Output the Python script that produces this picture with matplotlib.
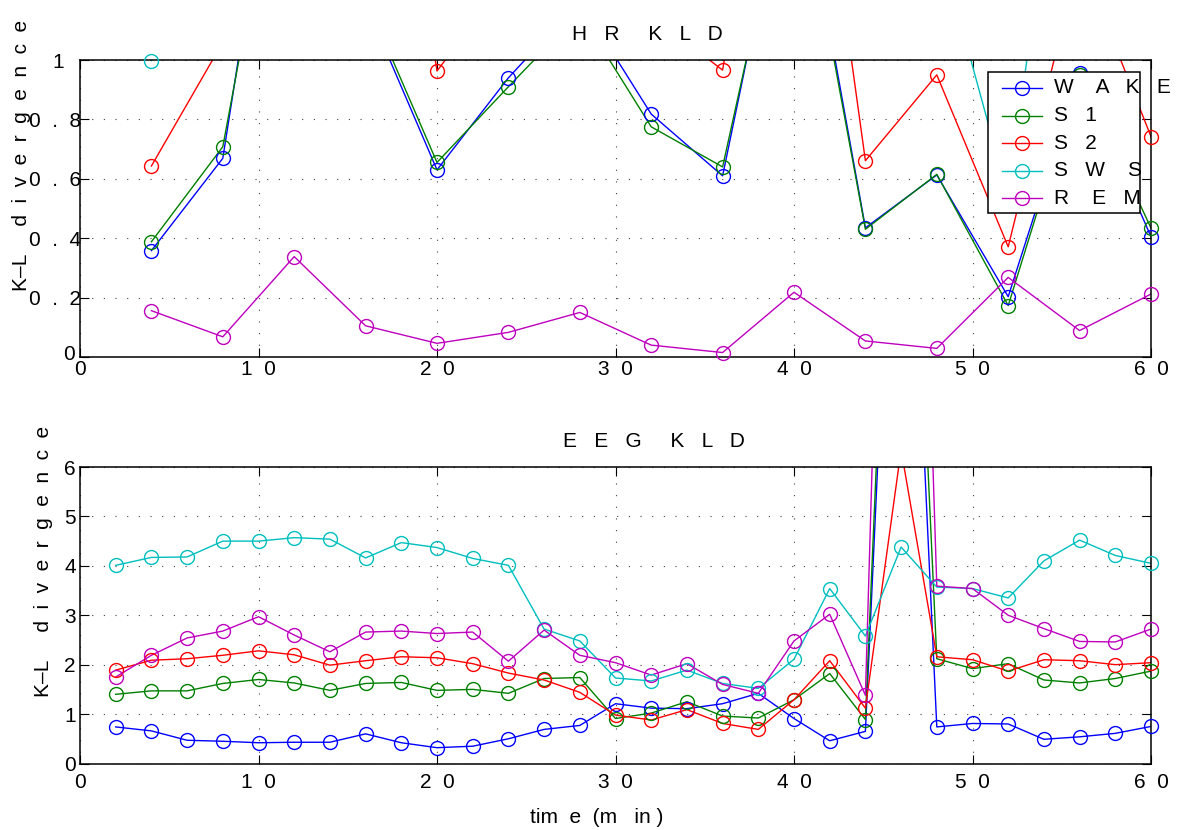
import matplotlib
matplotlib.use('Agg')
import matplotlib.pyplot as plt
from matplotlib.lines import Line2D
from matplotlib.patches import Rectangle
from matplotlib.transforms import ScaledTranslation

plt.rcParams['font.family'] = ['Liberation Sans', 'DejaVu Sans']
plt.rcParams['lines.scale_dashes'] = False

# ---------------- data ----------------
hr_time = [4, 8, 12, 16, 20, 24, 28, 32, 36, 40, 44, 48, 52, 56, 60]
hr_wake = [0.358, 0.669, 2.2, 1.19, 0.63, 0.94, 1.2, 0.818, 0.61, 1.77, 0.435, 0.613, 0.203, 0.955, 0.405]
hr_s1 = [0.388, 0.708, 2.0, 1.21, 0.655, 0.91, 1.16, 0.775, 0.64, 1.73, 0.43, 0.615, 0.173, 0.95, 0.434]
hr_s2 = [0.643, 1.06, 2.0, 2.5, 0.963, 1.28, 1.5, 1.15, 0.966, 2.4, 0.661, 0.95, 0.371, 1.35, 0.742]
hr_sws = [0.998, 1.8, 2.5, 2.8, 2.2, 2.0, 2.3, 2.0, 2.1, 2.4, 2.0, 1.42, 0.54, 2.3, 2.2]
hr_rem = [0.156, 0.068, 0.338, 0.105, 0.046, 0.083, 0.15, 0.04, 0.015, 0.218, 0.054, 0.029, 0.268, 0.089, 0.212]

eeg_time = [2, 4, 6, 8, 10, 12, 14, 16, 18, 20, 22, 24, 26, 28, 30,
            32, 34, 36, 38, 40, 42, 44, 46, 48, 50, 52, 54, 56, 58, 60]
eeg_wake = [0.74, 0.66, 0.47, 0.45, 0.42, 0.43, 0.43, 0.60, 0.42, 0.32, 0.35, 0.50, 0.69, 0.77, 1.21,
            1.12, 1.11, 1.21, 1.42, 0.91, 0.46, 0.65, 16.3, 0.74, 0.81, 0.80, 0.49, 0.54, 0.61, 0.75]
eeg_s1 = [1.40, 1.47, 1.47, 1.62, 1.70, 1.63, 1.48, 1.62, 1.64, 1.48, 1.50, 1.42, 1.72, 1.74, 0.91,
          1.02, 1.25, 0.96, 0.92, 1.29, 1.82, 0.89, 17.7, 2.12, 1.92, 2.02, 1.69, 1.63, 1.72, 1.87]
eeg_s2 = [1.89, 2.09, 2.12, 2.19, 2.28, 2.20, 1.99, 2.08, 2.16, 2.14, 2.02, 1.83, 1.69, 1.44, 0.98,
          0.88, 1.09, 0.81, 0.69, 1.29, 2.08, 1.12, 6.35, 2.16, 2.10, 1.87, 2.10, 2.08, 2.00, 2.04]
eeg_sws = [4.01, 4.17, 4.18, 4.50, 4.50, 4.57, 4.54, 4.16, 4.47, 4.37, 4.15, 4.01, 2.72, 2.48, 1.73,
           1.67, 1.89, 1.62, 1.52, 2.11, 3.54, 2.58, 4.38, 3.57, 3.54, 3.35, 4.10, 4.52, 4.21, 4.05]
eeg_rem = [1.75, 2.19, 2.54, 2.68, 2.97, 2.60, 2.26, 2.66, 2.68, 2.63, 2.66, 2.07, 2.70, 2.19, 2.04,
           1.79, 2.02, 1.60, 1.42, 2.48, 3.02, 1.38, 26.0, 3.59, 3.54, 3.00, 2.73, 2.47, 2.46, 2.72]

legend_labels = ['W    A   K   E', 'S   1', 'S   2', 'S   W    S', 'R    E   M']
colors = ['#0000ff', '#008000', '#ff0000', '#00bfbf', '#bf00bf']

hr_xticks = [0, 10, 20, 30, 40, 50, 60]
hr_xticklabels = ['0', '1  0', '2  0', '3  0', '4  0', '5  0', '6  0']
hr_yticks = [0, 0.2, 0.4, 0.6, 0.8, 1.0]
hr_yticklabels = ['0 ', '0  .  2', '0  .  4', '0  .  6', '0  .  8', '1   ']
eeg_yticks = [0, 1, 2, 3, 4, 5, 6]
eeg_yticklabels = ['0', '1', '2', '3', '4', '5', '6']

FS = 15
W, H = 1188, 830

fig = plt.figure(figsize=(W / 100, H / 100), dpi=100)


def px_box(l, t, r, b):
    return [l / W, 1 - b / H, (r - l) / W, (b - t) / H]


ax1 = fig.add_axes(px_box(80, 60, 1151, 357))
ax2 = fig.add_axes(px_box(80, 467, 1151, 763.5))


def draw(ax, x, series, ymax):
    for y, c in zip(series, colors):
        ax.plot(x, y, '-', color=c, lw=1.0, zorder=2)
        xin = [a for a, b in zip(x, y) if 0 <= b <= ymax]
        yin = [b for b in y if 0 <= b <= ymax]
        ax.plot(xin, yin, 'o', color=c, mfc='none', ms=10, mew=1.0,
                clip_on=False, zorder=3)


def style(ax, yticks, yticklabels, ymax, xpad, ypad):
    ax.set_xlim(0, 60)
    ax.set_ylim(0, ymax)
    ax.set_xticks(hr_xticks)
    ax.set_xticklabels(hr_xticklabels, fontsize=FS)
    ax.set_yticks(yticks)
    ax.set_yticklabels(yticklabels, fontsize=FS)
    ax.tick_params(direction='in', length=6.5, width=0.8, top=True, right=True)
    ax.tick_params(axis='x', pad=xpad)
    ax.tick_params(axis='y', pad=ypad)
    ax.grid(True, color='0.25', lw=0.8, linestyle=(0, (0.8, 7.6)))
    for s in ax.spines.values():
        s.set_linewidth(1.1)


draw(ax1, hr_time, [hr_wake, hr_s1, hr_s2, hr_sws, hr_rem], 1.0)
draw(ax2, eeg_time, [eeg_wake, eeg_s1, eeg_s2, eeg_sws, eeg_rem], 6.0)
style(ax1, hr_yticks, hr_yticklabels, 1.0, 2.5, -1)
style(ax2, eeg_yticks, eeg_yticklabels, 6.0, 6.5, 3)

# raise the lowest y tick label of the upper panel a little (as in the reference)
lab0 = ax1.yaxis.get_major_ticks()[0].label1
lab0.set_transform(lab0.get_transform() + ScaledTranslation(0, 5 / 100, fig.dpi_scale_trans))

# titles / labels (MATLAB-like letter spacing)
fig.text(572 / W, 1 - 40 / H, 'H   R     K   L   D', fontsize=FS, ha='left', va='baseline')
fig.text(563 / W, 1 - 447 / H, 'E   E   G     K   L   D', fontsize=FS, ha='left', va='baseline')
ylab = 'K–L     d  i  v  e  r  g  e  n  c  e'
fig.text(27 / W, 1 - 291 / H, ylab, fontsize=FS, rotation=90, rotation_mode='anchor',
         ha='left', va='baseline')
fig.text(49 / W, 1 - 697 / H, ylab, fontsize=FS, rotation=90, rotation_mode='anchor',
         ha='left', va='baseline')
fig.text(530 / W, 1 - 823 / H, 'tim  e  (m   in )', fontsize=FS, ha='left', va='baseline')

# legend drawn MATLAB-style (text overflowing the box)
fig.add_artist(Rectangle((988 / W, 1 - 213 / H), (1140 - 988) / W, (213 - 72) / H,
                         transform=fig.transFigure, facecolor='white', edgecolor='black',
                         lw=1.1, zorder=5))
rows = [87.7, 115.7, 143.3, 170.7, 198.3]
for lab, c, ry in zip(legend_labels, colors, rows):
    fy = 1 - ry / H
    fig.add_artist(Line2D([1002 / W, 1042 / W], [fy, fy], transform=fig.transFigure,
                          color=c, lw=1.0, zorder=6))
    fig.add_artist(Line2D([1022 / W], [fy], transform=fig.transFigure, color=c,
                          marker='o', mfc='none', ms=10, mew=1.0, zorder=6))
    fig.text(1054 / W, fy, lab, fontsize=FS, ha='left', va='center', zorder=7)

fig.savefig('out.png', dpi=100)
